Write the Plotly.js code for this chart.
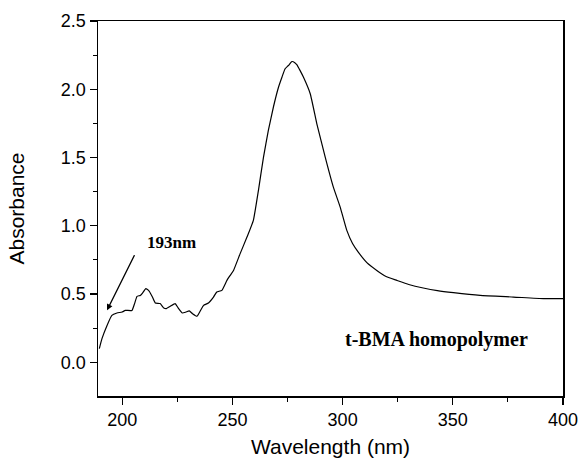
<!DOCTYPE html>
<html>
<head>
<meta charset="utf-8">
<script src="https://cdn.plot.ly/plotly-3.0.1.min.js"></script>
<style>html,body{margin:0;padding:0;background:#fff;}#chart{width:582px;height:458px;}</style>
</head>
<body>
<div id="chart"></div>
<script>
const wavelength = [189.6,190.8,193.1,195.3,197.6,199.9,201.4,204.4,205.6,206.7,208.2,209.2,210.7,212.2,213.7,215.0,217.2,218.7,220.0,221.8,224.0,225.3,227.3,228.9,230.4,231.9,233.9,235.4,236.9,239.1,241.4,242.9,245.2,247.5,249.0,250.5,253.5,256.6,259.5,261.8,264.1,266.3,268.6,270.9,272.5,273.9,275.4,277.0,278.3,279.2,280.6,282.2,285.3,288.3,292.1,295.8,298.9,301.9,304.5,307.1,311.0,315.5,319.5,324.6,330.0,336.6,343.0,350.3,362.4,377.5,391.1,400.0];
const absorbance = [0.10,0.173,0.27,0.344,0.361,0.368,0.38,0.38,0.43,0.483,0.49,0.507,0.54,0.522,0.478,0.434,0.43,0.40,0.393,0.41,0.43,0.40,0.361,0.368,0.376,0.356,0.337,0.376,0.417,0.434,0.478,0.515,0.527,0.60,0.637,0.673,0.796,0.917,1.04,1.26,1.503,1.698,1.87,2.015,2.09,2.15,2.174,2.203,2.195,2.18,2.14,2.089,1.967,1.747,1.503,1.283,1.137,0.966,0.87,0.807,0.73,0.673,0.63,0.60,0.57,0.544,0.525,0.51,0.49,0.478,0.466,0.466];
const xTicks = [200,250,300,350,400];
const yTicks = [0.0,0.5,1.0,1.5,2.0,2.5];
const yTickText = ['0.0','0.5','1.0','1.5','2.0','2.5'];
const peakLabel = '193nm';
const sampleLabel = 't-BMA homopolymer';

const trace = {
  x: wavelength, y: absorbance, type: 'scatter', mode: 'lines',
  line: {color: '#000', width: 1.2, shape: 'spline', smoothing: 0.4}, hoverinfo: 'skip', showlegend: false
};
const axisCommon = {
  showline: true, linecolor: '#000', linewidth: 1.5, mirror: true,
  ticks: 'outside', ticklen: 7, tickwidth: 1.2, tickcolor: '#000',
  showgrid: false, zeroline: false,
  tickfont: {family: 'Liberation Sans, Arial, sans-serif', size: 18, color: '#000'}
};
const layout = {
  width: 582, height: 458,
  margin: {l: 98, r: 19, t: 21, b: 62},
  paper_bgcolor: '#fff', plot_bgcolor: '#fff',
  xaxis: Object.assign({}, axisCommon, {
    range: [189, 400], tickvals: xTicks,
    minor: {dtick: 25, tick0: 0, ticks: 'outside', ticklen: 4, tickcolor: '#000', tickwidth: 1},
    title: {text: 'Wavelength (nm)', font: {family: 'Liberation Sans, Arial, sans-serif', size: 21, color: '#000'}, standoff: 11}
  }),
  yaxis: Object.assign({}, axisCommon, {
    range: [-0.247, 2.5], tickvals: yTicks, ticktext: yTickText,
    minor: {dtick: 0.25, tick0: 0, ticks: 'outside', ticklen: 4, tickcolor: '#000', tickwidth: 1},
    title: {text: 'Absorbance', font: {family: 'Liberation Sans, Arial, sans-serif', size: 21, color: '#000'}, standoff: 30}
  }),
  annotations: [
    {x: 193.1, y: 0.381, ax: 205.9, ay: 0.796, axref: 'x', ayref: 'y', xref: 'x', yref: 'y',
     showarrow: true, arrowhead: 2, arrowsize: 1, arrowwidth: 1.2, arrowcolor: '#000', text: ''},
    {x: 222.5, y: 0.88, xref: 'x', yref: 'y', text: '<b>' + peakLabel + '</b>', showarrow: false,
     font: {family: 'Liberation Serif, Times New Roman, serif', size: 17, color: '#000'}},
    {x: 342.6, y: 0.168, xref: 'x', yref: 'y', text: '<b>' + sampleLabel + '</b>', showarrow: false,
     font: {family: 'Liberation Serif, Times New Roman, serif', size: 20, color: '#000'}}
  ]
};
Plotly.newPlot('chart', [trace], layout, {displayModeBar: false, staticPlot: true});
</script>
</body>
</html>
